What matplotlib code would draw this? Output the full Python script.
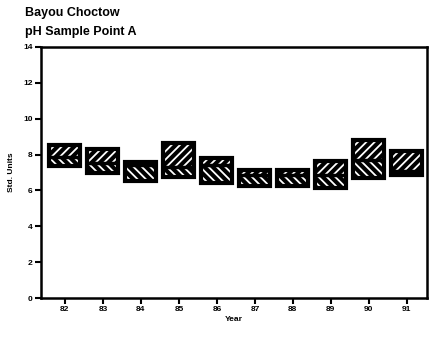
import matplotlib
matplotlib.use("Agg")
from matplotlib import pyplot as plt
import numpy as np

# pH per year: box low / median / high
years = [82, 83, 84, 85, 86, 87, 88, 89, 90, 91]
ph_low = [7.36, 6.97, 6.53, 6.75, 6.41, 6.25, 6.25, 6.13, 6.69, 6.86]
ph_med = [7.86, 7.53, 7.40, 7.30, 7.42, 6.86, 6.86, 6.86, 7.70, 7.08]
ph_high = [8.53, 8.31, 7.59, 8.64, 7.81, 7.14, 7.14, 7.64, 8.81, 8.20]
y_ticks = [0, 2, 4, 6, 8, 10, 12, 14]

plt.rcParams['font.family'] = ['Liberation Sans', 'DejaVu Sans']
plt.rcParams['font.weight'] = 'bold'
plt.rcParams['hatch.linewidth'] = 1.3

fig = plt.figure(figsize=(4.3, 3.45), dpi=100)
ax = fig.add_axes([0.0953, 0.1362, 0.8977, 0.7276])

x = np.array(years)
low = np.array(ph_low)
med = np.array(ph_med)
high = np.array(ph_high)
w = 0.82

# upper half ///, lower half \\\ (white stripes on black)
ax.bar(x, high - med, bottom=med, width=w, color='black', edgecolor='white',
       hatch='////', linewidth=0)
ax.bar(x, med - low, bottom=low, width=w, color='black', edgecolor='white',
       hatch='\\\\\\\\', linewidth=0)
ax.bar(x, high - low, bottom=low, width=w, fill=False, edgecolor='black',
       linewidth=3)
# median line
ax.hlines(med, x - w / 2, x + w / 2, colors='black', linewidth=2.5)

ax.set_xlim(81.37, 91.53)
ax.set_ylim(0, 14)
ax.set_xticks(years)
ax.set_xticklabels([str(y) for y in years])
ax.set_yticks(y_ticks)
ax.tick_params(direction='out', length=4, width=1.5, labelsize=6, pad=2)
for s in ax.spines.values():
    s.set_linewidth(1.8)

ax.set_xlabel("Year", fontsize=6, fontweight='bold', labelpad=2)
ax.set_ylabel("Std. Units", fontsize=6, fontweight='bold', labelpad=6)

fig.text(0.058, 0.962, "Bayou Choctow", fontsize=9, fontweight='bold', va='center')
fig.text(0.058, 0.907, "pH Sample Point A", fontsize=9, fontweight='bold', va='center')

fig.savefig("out.png", dpi=100)
